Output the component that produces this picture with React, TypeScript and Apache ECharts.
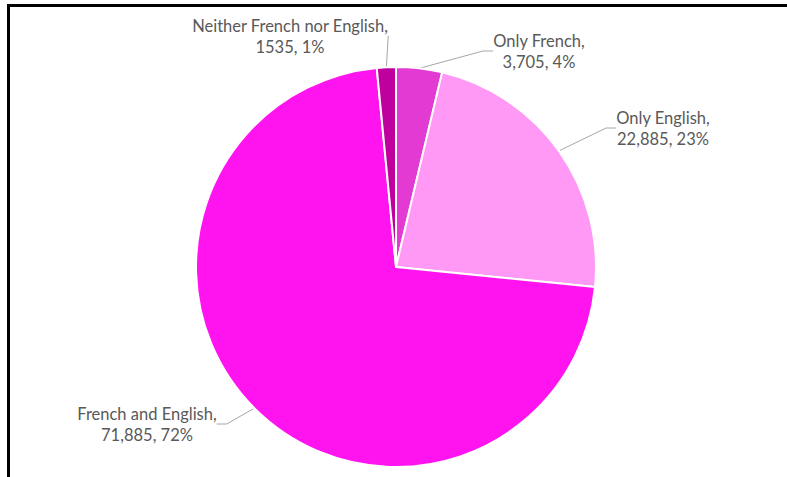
import React, { useEffect, useRef } from "react";
import * as echarts from "echarts";

const categories = ["Only French", "Only English", "French and English", "Neither French nor English"];
const values = [3705, 22885, 71885, 1535];
const valueTexts = ["3,705", "22,885", "71,885", "1535"];
const percentTexts = ["4%", "23%", "72%", "1%"];
const colors = ["#E23AD2", "#FF99F5", "#FF14F0", "#C0009E"];

// label centre positions (layout only)
const labelPos: [number, number][] = [
  [539, 51],
  [663, 128],
  [147, 424],
  [290, 36],
];

export default function App() {
  const ref = useRef<HTMLDivElement>(null);
  useEffect(() => {
    if (!ref.current) return;
    const chart = echarts.init(ref.current, null, { renderer: "svg" });
    chart.setOption({
      animation: false,
      backgroundColor: "#ffffff",
      graphic: [
        { type: "rect", shape: { x: 7, y: 4, width: 780, height: 3 }, style: { fill: "#000" } },
        { type: "rect", shape: { x: 7, y: 4, width: 3, height: 473 }, style: { fill: "#000" } },
      ],
      series: [
        {
          type: "pie",
          center: [396, 267],
          radius: [0, 200],
          startAngle: 90,
          clockwise: true,
          data: categories.map((c, i) => ({
            name: c,
            value: values[i],
            itemStyle: { color: colors[i] },
          })),
          itemStyle: { borderColor: "#ffffff", borderWidth: 2 },
          label: {
            show: true,
            position: "outside",
            fontFamily: "Lato",
            fontSize: 16.5,
            color: "#595959",
            lineHeight: 21,
            align: "center",
            formatter: (p: any) => `${p.name},\n${valueTexts[p.dataIndex]}, ${percentTexts[p.dataIndex]}`,
          },
          labelLine: {
            show: true,
            length: 10,
            length2: 10,
            lineStyle: { color: "#A6A6A6", width: 1 },
          },
          labelLayout: (params: any) => {
            const [x, y] = labelPos[params.dataIndex];
            return { x, y, align: "center", verticalAlign: "middle" };
          },
        },
      ],
    });
    return () => chart.dispose();
  }, []);
  return (
    <div
      ref={ref}
      style={{ position: "fixed", left: 0, top: 0, width: 787, height: 477 }}
    />
  );
}
